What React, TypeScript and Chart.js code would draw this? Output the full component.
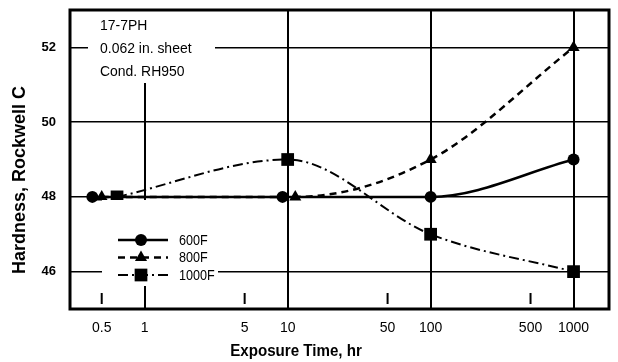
import { useEffect, useRef } from 'react';
import { Chart, registerables } from 'chart.js';

Chart.register(...registerables);

// ---- data ----
const seriesNames = ['600F', '800F', '1000F'];
const time600 = [0.43, 9.2, 100, 1000];
const hard600 = [48, 48, 48, 49];
const time800 = [0.5, 11.3, 100, 1000];
const hard800 = [48, 48, 49, 52];
const time1000 = [0.64, 10, 100, 1000];
const hard1000 = [48, 49, 47, 46];

const xTickValues = [0.5, 1, 5, 10, 50, 100, 500, 1000];
const xMajor = [1, 10, 100, 1000];
const xMinor = [0.5, 5, 50, 500];
const yTickValues = [46, 48, 50, 52];

const noteLines = ['17-7PH', '0.062 in. sheet', 'Cond. RH950'];
const xTitle = 'Exposure Time, hr';
const yTitle = 'Hardness, Rockwell C';

const SANS = '"Liberation Sans", Arial, sans-serif';

function drawMarker(ctx: CanvasRenderingContext2D, style: string, x: number, y: number, r: number) {
  ctx.beginPath();
  if (style === 'circle') {
    ctx.arc(x, y, r, 0, Math.PI * 2);
  } else if (style === 'triangle') {
    const h = r * 1.5;
    const w = r * Math.sqrt(3);
    ctx.moveTo(x, y - r);
    ctx.lineTo(x + w / 2, y - r + h);
    ctx.lineTo(x - w / 2, y - r + h);
    ctx.closePath();
  } else {
    const s = r * Math.SQRT1_2;
    ctx.rect(x - s, y - s, 2 * s, 2 * s);
  }
  ctx.fill();
}

function scaledText(ctx: CanvasRenderingContext2D, text: string, x: number, y: number, sx: number) {
  ctx.save();
  ctx.translate(x, y);
  ctx.scale(sx, 1);
  ctx.fillText(text, 0, 0);
  ctx.restore();
}

const decorPlugin = {
  id: 'decor',
  beforeDatasetsDraw(chart: any) {
    const { ctx, chartArea, scales } = chart;
    const xs = scales.x;
    ctx.save();
    ctx.strokeStyle = '#000';
    ctx.lineWidth = 2;
    xMinor.forEach((v) => {
      const px = xs.getPixelForValue(v);
      ctx.beginPath();
      ctx.moveTo(px, chartArea.bottom - 16);
      ctx.lineTo(px, chartArea.bottom - 5);
      ctx.stroke();
    });
    ctx.restore();
  },
  afterDatasetsDraw(chart: any) {
    const { ctx, chartArea } = chart;
    ctx.save();
    // note box
    ctx.fillStyle = '#fff';
    ctx.fillRect(chartArea.left + 18, chartArea.top + 1, 127, 72);
    ctx.fillStyle = '#000';
    ctx.font = `15px ${SANS}`;
    ctx.textBaseline = 'middle';
    ctx.textAlign = 'left';
    noteLines.forEach((t, i) => {
      scaledText(ctx, t, chartArea.left + 30, chartArea.top + 16 + i * 23, 0.93);
    });
    // legend box
    ctx.fillStyle = '#fff';
    ctx.fillRect(chartArea.left + 32, 200, 116, 86);
    chart.data.datasets.forEach((ds: any, i: number) => {
      const y = 240 + i * 17.5;
      ctx.strokeStyle = '#000';
      ctx.lineWidth = ds.borderWidth;
      ctx.setLineDash(ds.borderDash || []);
      ctx.beginPath();
      ctx.moveTo(chartArea.left + 48, y);
      ctx.lineTo(chartArea.left + 98, y);
      ctx.stroke();
      ctx.setLineDash([]);
      ctx.fillStyle = '#000';
      drawMarker(ctx, ds.pointStyle, chartArea.left + 71, y, ds.pointRadius);
      ctx.font = `14px ${SANS}`;
      ctx.textBaseline = 'middle';
      ctx.textAlign = 'left';
      scaledText(ctx, ds.label, chartArea.left + 109, y + 1, 0.9);
    });
    ctx.restore();
  },
  afterDraw(chart: any) {
    const { ctx, chartArea } = chart;
    ctx.save();
    ctx.strokeStyle = '#000';
    ctx.lineWidth = 3;
    ctx.strokeRect(chartArea.left, chartArea.top, chartArea.right - chartArea.left, chartArea.bottom - chartArea.top);
    // axis titles
    ctx.fillStyle = '#000';
    ctx.font = `bold 17px ${SANS}`;
    ctx.textAlign = 'center';
    ctx.textBaseline = 'middle';
    scaledText(ctx, xTitle, 296, 351, 0.89);
    ctx.translate(20, 180);
    ctx.rotate(-Math.PI / 2);
    ctx.font = `bold 18px ${SANS}`;
    ctx.fillText(yTitle, 0, 0);
    ctx.restore();
  },
};

export default function App() {
  const ref = useRef<HTMLCanvasElement>(null);
  useEffect(() => {
    const mk = (xs: number[], ys: number[]) => xs.map((x, i) => ({ x, y: ys[i] }));
    const chart = new Chart(ref.current!, {
      type: 'line',
      data: {
        datasets: [
          {
            label: seriesNames[0],
            data: mk(time600, hard600),
            borderColor: '#000',
            backgroundColor: '#000',
            borderWidth: 2.5,
            pointStyle: 'circle',
            pointRadius: 6,
            pointBorderWidth: 0,
            cubicInterpolationMode: 'monotone',
          },
          {
            label: seriesNames[1],
            data: mk(time800, hard800),
            borderColor: '#000',
            backgroundColor: '#000',
            borderWidth: 2.5,
            borderDash: [7, 5],
            pointStyle: 'triangle',
            pointRadius: 7,
            pointBorderWidth: 0,
            cubicInterpolationMode: 'monotone',
          },
          {
            label: seriesNames[2],
            data: mk(time1000, hard1000),
            borderColor: '#000',
            backgroundColor: '#000',
            borderWidth: 2,
            borderDash: [10, 4, 2, 4],
            pointStyle: 'rect',
            pointRadius: 9,
            pointBorderWidth: 0,
            cubicInterpolationMode: 'monotone',
          },
        ] as any,
      },
      options: {
        responsive: false,
        animation: false,
        events: [],
        layout: { padding: { top: 10, right: 2, left: 0, bottom: 0 } },
        plugins: { legend: { display: false }, tooltip: { enabled: false } },
        scales: {
          x: {
            type: 'logarithmic',
            min: 0.32,
            max: 1770,
            afterBuildTicks: (s: any) => {
              s.ticks = xTickValues.map((v) => ({ value: v }));
            },
            afterFit: (s: any) => {
              s.height = 53;
              s.paddingLeft = 0;
              s.paddingRight = 0;
            },
            ticks: {
              autoSkip: false,
              maxRotation: 0,
              padding: 11,
              color: '#000',
              font: { family: SANS, size: 14, weight: 'normal' },
              callback: (v: any) => String(v),
            },
            grid: {
              drawTicks: false,
              lineWidth: 2,
              color: (c: any) => (c.tick && xMajor.includes(c.tick.value) ? '#000' : 'rgba(0,0,0,0)'),
            },
            border: { display: false },
          },
          y: {
            type: 'linear',
            min: 45,
            max: 53,
            afterBuildTicks: (s: any) => {
              s.ticks = yTickValues.map((v) => ({ value: v }));
            },
            afterFit: (s: any) => {
              s.width = 70;
              s.paddingTop = 0;
              s.paddingBottom = 0;
            },
            ticks: {
              padding: 14,
              color: '#000',
              font: { family: SANS, size: 13, weight: 'bold' },
              callback: (v: any) => String(v),
            },
            grid: { drawTicks: false, lineWidth: 1.5, color: '#000' },
            border: { display: false },
          },
        },
      } as any,
      plugins: [decorPlugin],
    });
    return () => chart.destroy();
  }, []);
  return (
    <div style={{ position: 'absolute', left: 0, top: 0, width: 618, height: 362, background: '#fff' }}>
      <canvas ref={ref} width={618} height={362} style={{ display: 'block' }} />
    </div>
  );
}
